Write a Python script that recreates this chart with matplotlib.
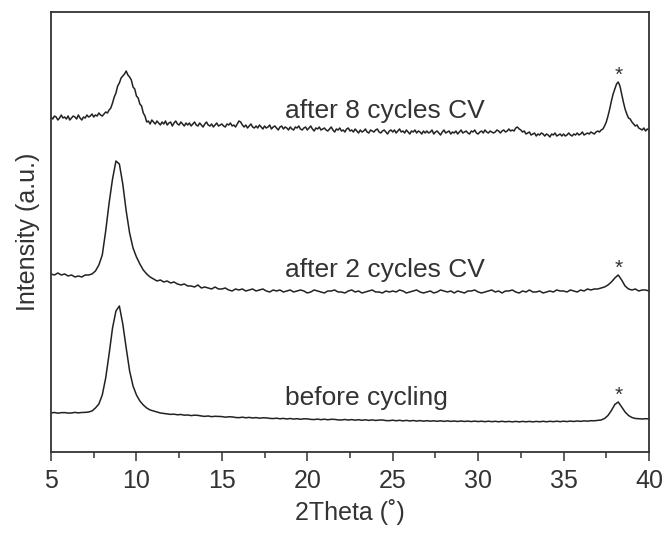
import numpy as np
import matplotlib
matplotlib.use("Agg")
from matplotlib import pyplot as plt
from matplotlib.ticker import MultipleLocator

plt.rcParams['font.family'] = ['Liberation Sans', 'DejaVu Sans']

# 2theta scans: 0.1 deg step for the cycled-8 sample, 0.2 deg for the others
two_theta_fine = np.linspace(5, 40, 351)
two_theta = np.linspace(5, 40, 176)

# stacked intensities (a.u.), one row of the list = 2 degrees
after_8_cycles = [
    335, 333, 336, 335, 332, 334, 337, 334, 335, 333, 336, 332, 334, 336, 335, 333, 337, 334, 332, 335,
    334, 337, 335, 336, 338, 335, 337, 336, 339, 337, 336, 338, 340, 339, 342, 344, 349, 355, 359, 366,
    369, 374, 376, 378, 381, 377, 375, 372, 365, 363, 356, 354, 348, 346, 339, 336, 330, 331, 328, 332,
    330, 328, 331, 329, 327, 330, 328, 331, 327, 329, 330, 326, 329, 331, 328, 327, 330, 328, 326, 329,
    327, 329, 326, 328, 330, 327, 326, 329, 327, 325, 328, 330, 327, 326, 328, 325, 327, 329, 326, 327,
    328, 326, 325, 328, 327, 329, 326, 327, 325, 328, 331, 330, 327, 325, 327, 324, 326, 328, 325, 324,
    326, 324, 327, 325, 323, 326, 324, 325, 327, 323, 325, 326, 324, 322, 325, 326, 323, 325, 324, 322,
    325, 323, 322, 325, 324, 326, 323, 322, 324, 325, 322, 324, 326, 323, 321, 324, 323, 325, 322, 323,
    324, 322, 321, 323, 325, 322, 320, 323, 322, 324, 321, 322, 320, 323, 324, 321, 322, 320, 323, 321,
    319, 322, 320, 321, 323, 320, 319, 322, 321, 320, 322, 323, 320, 319, 321, 322, 320, 318, 321, 322,
    320, 322, 319, 321, 323, 320, 321, 319, 322, 320, 318, 321, 320, 322, 319, 321, 320, 318, 321, 319,
    321, 319, 320, 322, 318, 320, 321, 319, 317, 320, 322, 319, 320, 321, 318, 320, 319, 321, 318, 320,
    322, 319, 320, 321, 319, 318, 321, 320, 322, 319, 318, 320, 321, 319, 322, 320, 319, 321, 320, 319,
    320, 322, 321, 319, 321, 322, 320, 321, 323, 321, 322, 321, 324, 325, 323, 322, 320, 321, 318, 319,
    320, 317, 318, 319, 316, 318, 317, 319, 318, 316, 318, 317, 315, 318, 317, 319, 316, 317, 318, 316,
    318, 316, 317, 319, 317, 316, 318, 317, 319, 317, 318, 320, 317, 318, 319, 318, 320, 319, 318, 320,
    321, 320, 322, 323, 326, 330, 336, 343, 351, 358, 363, 368, 370, 366, 358, 350, 343, 338, 334, 333,
    330, 328, 326, 327, 324, 323, 322, 324, 321, 323, 322,
]

after_2_cycles = [
    178, 177, 179, 177, 178, 176, 177, 175, 176, 175,
    177, 177, 178, 181, 187, 197, 221, 249, 273, 291,
    288, 268, 241, 219, 204, 195, 188, 182, 178, 175,
    173, 171, 172, 170, 171, 169, 170, 168, 167, 168,
    166, 166, 165, 167, 164, 165, 164, 163, 165, 163,
    163, 164, 162, 161, 163, 162, 163, 161, 162, 163,
    161, 162, 163, 161, 160, 162, 161, 162, 160, 161,
    162, 160, 161, 162, 161, 159, 160, 162, 161, 160,
    159, 161, 161, 162, 160, 160, 159, 161, 162, 160,
    161, 159, 160, 161, 162, 160, 160, 159, 161, 160,
    161, 160, 162, 161, 159, 160, 161, 162, 160, 159,
    160, 161, 159, 160, 162, 161, 160, 161, 159, 161,
    160, 159, 161, 161, 162, 160, 159, 160, 161, 162,
    160, 161, 159, 161, 161, 162, 160, 159, 161, 160,
    162, 160, 160, 161, 159, 160, 161, 160, 162, 161,
    161, 160, 162, 161, 160, 162, 161, 163, 162, 163,
    163, 164, 165, 167, 170, 174, 177, 172, 166, 163,
    162, 163, 161, 162, 162, 161,
]

before_cycling = [
    39, 39.5, 38.8, 39.3, 39.4, 38.9, 39, 39.6, 39.1, 39.5,
    39.6, 40, 41, 44, 48, 57, 74, 98, 124, 141,
    146, 128, 104, 81, 66, 57, 51, 47, 44, 42,
    41, 40, 39, 38.5, 38, 37.6, 37.8, 37.2, 37.5, 36.8,
    37, 36.4, 36.8, 36.6, 36, 35.6, 36, 35.3, 35.7, 35.5,
    35.4, 34.8, 35.2, 35.1, 34.5, 34.3, 34.8, 34.2, 34.6, 34,
    34.4, 33.8, 34.2, 34.1, 33.6, 33.4, 33.8, 33.2, 33.6, 33,
    33.5, 32.9, 33.3, 32.7, 33.2, 33.1, 32.6, 32.4, 32.9, 32.3,
    32.8, 32.2, 32.7, 32.6, 32.1, 32, 32.5, 31.9, 32.4, 31.8,
    32.3, 31.7, 32.2, 31.6, 32.1, 31.5, 31.9, 32, 31.4, 31.3,
    31.8, 31.2, 31.7, 31.1, 31.6, 31, 31.5, 30.9, 31.4, 30.8,
    31.3, 30.8, 31.2, 30.7, 31.2, 30.6, 31.1, 30.6, 31, 30.5,
    31, 30.5, 30.9, 30.4, 30.9, 30.4, 30.8, 30.3, 30.8, 30.3,
    30.7, 30.2, 30.7, 30.2, 30.6, 30.1, 30.6, 30.1, 30.6, 30.2,
    30.6, 30.1, 30.6, 30.2, 30.7, 30.2, 30.7, 30.3, 30.8, 30.3,
    30.8, 30.4, 30.9, 30.5, 31, 30.6, 31.1, 30.8, 31.3, 31.2,
    31.6, 32, 33.5, 36.5, 41.5, 47.5, 50, 45, 40, 36.5,
    34.5, 33.5, 33.2, 33, 33.3, 33,
]

patterns = [(two_theta_fine, after_8_cycles),
            (two_theta, after_2_cycles),
            (two_theta, before_cycling)]
names = ["after 8 cycles CV", "after 2 cycles CV", "before cycling"]
name_y = [334, 175, 47]       # baseline of each label
star_pos = 38.2               # impurity reflection marked with *

fig = plt.figure(figsize=(6.67, 5.34), dpi=100)
ax = fig.add_axes([0.0765, 0.1536, 0.8965, 0.8239])

for (x, y), name, ny in zip(patterns, names, name_y):
    y = np.array(y)
    ax.plot(x, y, color='#222222', lw=1.1)
    ax.text(18.7, ny, name, fontsize=19, color='#333333', va='baseline', ha='left')
    k = np.argmin(np.abs(x - star_pos))
    ax.annotate('*', xy=(star_pos, y[k]), xytext=(0, -2), textcoords='offset points',
                ha='center', va='bottom', fontsize=15, color='#333333')

ax.set_xlim(5, 40)
ax.set_ylim(0, 440)
ax.xaxis.set_major_locator(MultipleLocator(5))
ax.xaxis.set_minor_locator(MultipleLocator(2.5))
ax.set_yticks([])
ax.tick_params(axis='x', which='major', direction='out', length=6.5, width=1.1,
               labelsize=18, colors='#333333', pad=6)
ax.tick_params(axis='x', which='minor', direction='out', length=4, width=1.1, colors='#333333')
for s in ax.spines.values():
    s.set_color('#333333')
    s.set_linewidth(1.3)

ax.set_xlabel('2Theta (˚)', fontsize=18, color='#333333', labelpad=4)
ax.set_ylabel('Intensity (a.u.)', fontsize=18, color='#333333', labelpad=8)

fig.savefig('out.png', dpi=100)
